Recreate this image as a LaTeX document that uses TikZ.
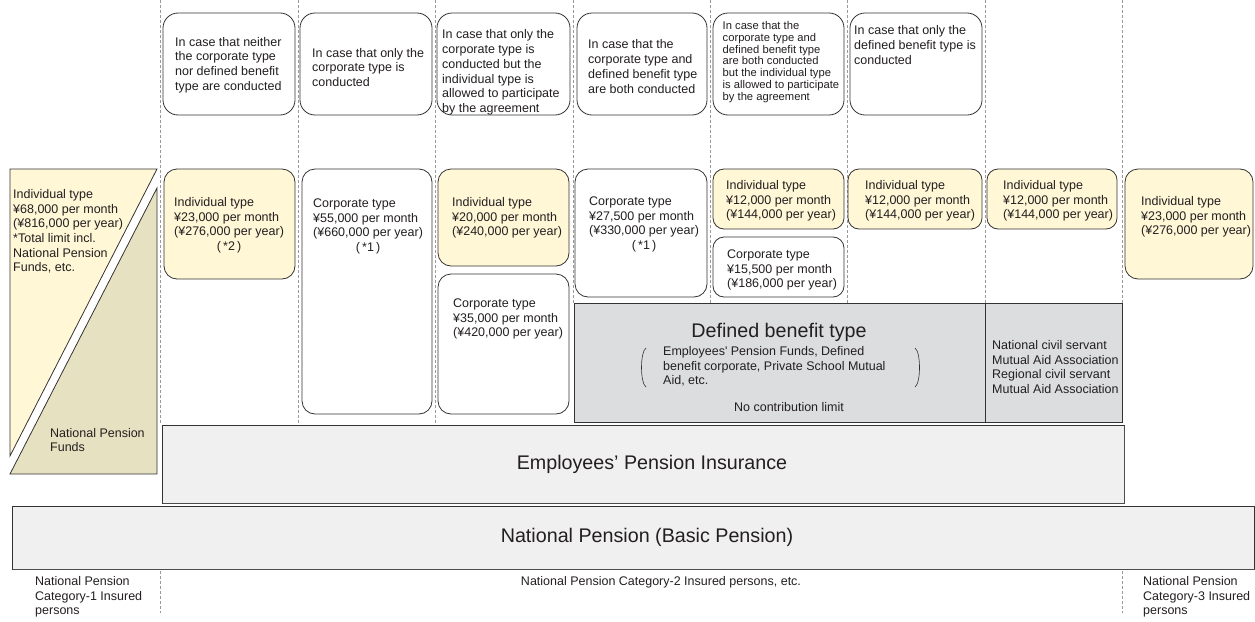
\documentclass[tikz,border=0pt]{standalone}
\usepackage{fontspec}
\setmainfont{Liberation Sans}
\definecolor{indfill}{HTML}{FFF7D6}
\definecolor{fundfill}{HTML}{E6E1C0}
\definecolor{dbfill}{HTML}{DCDDDF}
\definecolor{basefill}{HTML}{EFF0EF}
\definecolor{txtcol}{HTML}{231F20}
\tikzset{
  sep/.style={gray!80, dash pattern=on 3pt off 2pt, line width=0.6pt},
  casebox/.style={draw=black!80, line width=0.8pt, rounded corners=15pt, fill=white},
  corpbox/.style={draw=black!80, line width=0.8pt, rounded corners=13pt, fill=white},
  indbox/.style={corpbox, fill=indfill},
  band/.style={draw=black!80, line width=0.9pt},
  txt/.style={inner sep=0pt, align=left, anchor=west, text=txtcol, font=\fontsize{12.5}{14.7}\selectfont},
  smalltxt/.style={txt, font=\fontsize{11.2}{11.8}\selectfont},
  bigtxt/.style={inner sep=0pt, text=txtcol, font=\fontsize{19.7}{22}\selectfont},
}
\newcommand{\yen}{¥}
\newcommand{\notemark}[1]{\multicolumn{1}{@{}c@{}}{(\,*#1\,)}}

\begin{document}
\begin{tikzpicture}[x=1pt,y=-1pt]
\useasboundingbox (0,0) rectangle (1255,621);
% column separators
\foreach \x in {160,298,435} \draw[sep] (\x,0) -- (\x,425);
\foreach \x in {573,710,847,985,1122} \draw[sep] (\x,0) -- (\x,303);
\foreach \x in {160,1122} \draw[sep] (\x,571) -- (\x,613);

% cases
\draw[casebox] (163,13) rectangle (295,115);
\draw[casebox] (300,13) rectangle (432,115);
\draw[casebox] (437,13) rectangle (570,115);
\draw[casebox] (577,13) rectangle (707,115);
\draw[casebox] (713,13) rectangle (844,115);
\draw[casebox] (850,13) rectangle (982,115);
\node[txt] (case1) at (175,65) {In case that neither\\the corporate type\\nor defined benefit\\type are conducted};
\node[txt] (case2) at (312,67.5) {In case that only the\\corporate type is\\conducted};
\node[txt] (case3) at (442,72.5) {In case that only the\\corporate type is\\conducted but the\\individual type is\\allowed to participate\\by the agreement};
\node[txt] (case4) at (588,66.5) {In case that the\\corporate type and\\defined benefit type\\are both conducted};
\node[smalltxt] (case5) at (722.5,62) {In case that the\\corporate type and\\defined benefit type\\are both conducted\\but the individual type\\is allowed to participate\\by the agreement};
\node[txt] (case6) at (854,45) {In case that only the\\defined benefit type is\\conducted};

% national pension funds
\filldraw[fill=indfill, draw=black!80, line width=0.8pt] (10,169) -- (157,169) -- (10,456) -- cycle;
\filldraw[fill=fundfill, draw=black!80, line width=0.8pt] (157,188) -- (157,474) -- (10,474) -- cycle;
\node[txt] (ind0) at (13,231.5) {Individual type\\\yen68,000 per month\\(\yen816,000 per year)\\*Total limit incl.\\National Pension\\Funds, etc.};
\node[txt] (funds) at (50,440) {National Pension\\Funds};

% contribution limits
\draw[indbox] (164,169) rectangle (295,279);
\draw[corpbox] (302,169) rectangle (432,414);
\draw[indbox] (438,169) rectangle (569,266);
\draw[corpbox] (438,274) rectangle (569,414);
\draw[corpbox] (575,169) rectangle (707,297);
\draw[indbox, rounded corners=11pt] (713,169) rectangle (844,229);
\draw[corpbox, rounded corners=11pt] (713,237) rectangle (844,297);
\draw[indbox, rounded corners=11pt] (848,169) rectangle (982,229);
\draw[indbox, rounded corners=11pt] (987,169) rectangle (1117,229);
\draw[indbox] (1125,169) rectangle (1253,279);
\node[txt] (ind1) at (174,225.5) {\begin{tabular}{@{}l@{}}Individual type\\\yen23,000 per month\\(\yen276,000 per year)\\\notemark{2}\end{tabular}};
\node[txt] (corp2) at (313,226.5) {\begin{tabular}{@{}l@{}}Corporate type\\\yen55,000 per month\\(\yen660,000 per year)\\\notemark{1}\end{tabular}};
\node[txt] (ind3) at (452,218) {Individual type\\\yen20,000 per month\\(\yen240,000 per year)};
\node[txt] (corp3) at (453,319) {Corporate type\\\yen35,000 per month\\(\yen420,000 per year)};
\node[txt] (corp4) at (589,224.5) {\begin{tabular}{@{}l@{}}Corporate type\\\yen27,500 per month\\(\yen330,000 per year)\\\notemark{1}\end{tabular}};
\node[txt] (ind5) at (726,201) {Individual type\\\yen12,000 per month\\(\yen144,000 per year)};
\node[txt] (corp5) at (727,270) {Corporate type\\\yen15,500 per month\\(\yen186,000 per year)};
\node[txt] (ind6) at (865,201) {Individual type\\\yen12,000 per month\\(\yen144,000 per year)};
\node[txt] (ind7) at (1003,201) {Individual type\\\yen12,000 per month\\(\yen144,000 per year)};
\node[txt] (ind8) at (1141,217) {Individual type\\\yen23,000 per month\\(\yen276,000 per year)};

% defined benefit
\filldraw[band, fill=dbfill] (574,303) rectangle (985,422);
\filldraw[band, fill=dbfill] (985,303) rectangle (1122,422);
\node[bigtxt] (db) at (779,332) {Defined benefit type};
\node[txt] (dbkinds) at (663,366.5) {Employees\textquotesingle\ Pension Funds, Defined\\benefit corporate, Private School Mutual\\Aid, etc.};
\draw[black!80, line width=0.6pt] (646,348) .. controls (640,352) and (640,383) .. (646,387);
\draw[black!80, line width=0.6pt] (915,348) .. controls (921,352) and (921,383) .. (915,387);
\node[txt, anchor=center] (nolimit) at (789,407) {No contribution limit};
\node[txt] (civil) at (992,367) {National civil servant\\Mutual Aid Association\\Regional civil servant\\Mutual Aid Association};

% public pensions
\filldraw[band, fill=basefill] (162,425) rectangle (1124,503);
\draw[black!70, line width=1.4pt] (163,503.5) -- (1124.5,503.5) -- (1124.5,426);
\node[bigtxt] (epi) at (652,464) {Employees’ Pension Insurance};
\filldraw[band, fill=basefill] (12,506) rectangle (1254.5,569);
\draw[black!70, line width=1.4pt] (13,569.5) -- (1255,569.5);
\node[bigtxt] (basic) at (647,537) {National Pension (Basic Pension)};

% insured persons
\node[txt] (cat1) at (35,597) {National Pension\\Category-1 Insured\\persons};
\node[txt, anchor=center] (cat2) at (661,582) {National Pension Category-2 Insured persons, etc.};
\node[txt] (cat3) at (1143,597) {National Pension\\Category-3 Insured\\persons};
\end{tikzpicture}
\end{document}
